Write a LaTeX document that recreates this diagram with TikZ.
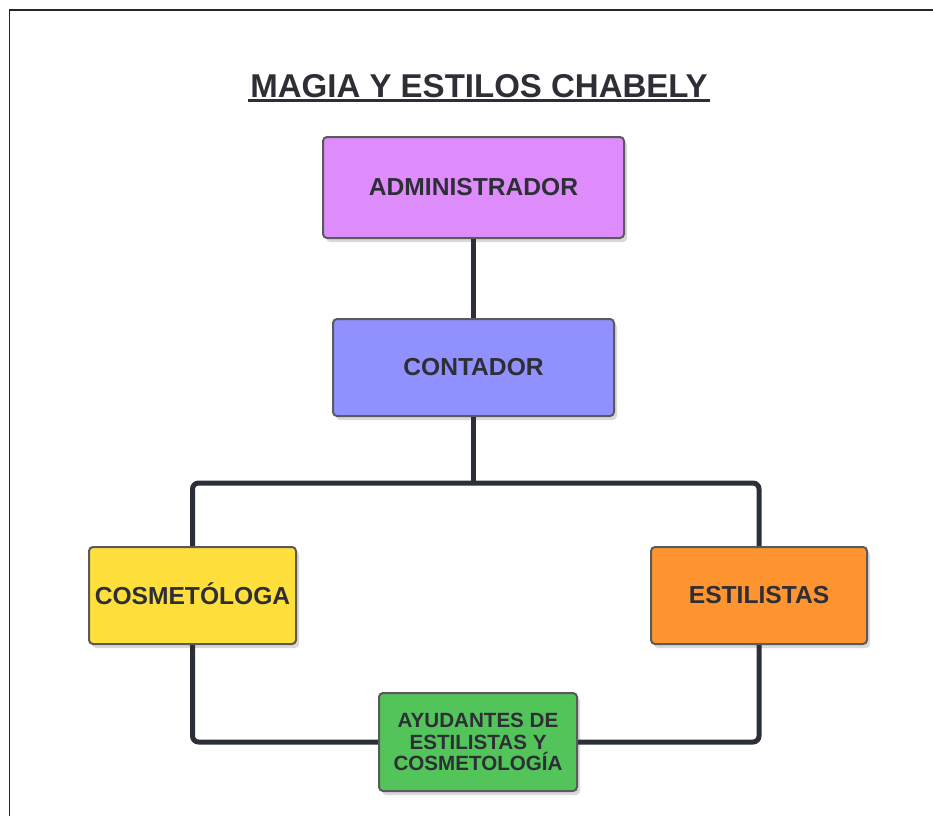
\documentclass[tikz,border=0pt]{standalone}
\usepackage{fontspec}
\setmainfont{Liberation Sans}
\usetikzlibrary{shadows}
\definecolor{inkdark}{HTML}{2B3038}
\definecolor{boxline}{HTML}{5A5A5A}
\definecolor{txtdark}{HTML}{2E2E36}
\definecolor{admincol}{HTML}{DE8CFC}
\definecolor{contcol}{HTML}{9090FF}
\definecolor{cosmcol}{HTML}{FFDF3C}
\definecolor{estcol}{HTML}{FD9430}
\definecolor{ayudcol}{HTML}{52C45A}
\tikzset{
  rolebox/.style={draw=boxline, line width=2pt, rounded corners=4pt, inner sep=0pt,
    align=center, text=txtdark, font=\bfseries\fontsize{24.6}{28}\selectfont,
    drop shadow={opacity=0.3, shadow xshift=3pt, shadow yshift=-4pt}},
  link/.style={draw=inkdark, line width=5pt, rounded corners=6pt},
}
\begin{document}
\begin{tikzpicture}[x=1pt, y=-1pt]
% Page size and frame
\useasboundingbox (0,0) rectangle (933,816);
\draw[line width=1.2pt, black!85] (9.5,816) -- (9.5,10) -- (933,10);

% Title
\node[anchor=base, inner sep=0pt, text=txtdark, font=\bfseries\fontsize{33}{36}\selectfont] (title) at (479,97) {MAGIA Y ESTILOS CHABELY};
\draw[inkdark, line width=3pt] ([xshift=-2pt, yshift=-3pt]title.base west) -- ([xshift=2pt, yshift=-3pt]title.base east);

% Boxes of the chart
\node[rolebox, fill=admincol, minimum width=301pt, minimum height=101pt] (admin) at (473.5,187.5) {ADMINISTRADOR};
\node[rolebox, fill=contcol, minimum width=281pt, minimum height=97pt] (cont) at (473.5,367.5) {CONTADOR};
\node[rolebox, fill=cosmcol, minimum width=207pt, minimum height=97pt, text height=17.6pt, text depth=0pt] (cosm) at (192.5,595.5) {COSMETÓLOGA};
\node[rolebox, fill=estcol, minimum width=216pt, minimum height=97pt] (est) at (759,595.5) {ESTILISTAS};
\node[rolebox, fill=ayudcol, minimum width=198pt, minimum height=98pt,
  font=\bfseries\fontsize{20.6}{21.5}\selectfont] (ayud) at (478,742) {AYUDANTES DE\\ESTILISTAS Y\\COSMETOLOGÍA};

% Connectors
\coordinate (split) at (473.5,483);
\draw[link] (admin.south) -- (cont.north);
\draw[link] (cont.south) -- (split);
\draw[link] (cosm.north) |- (split) -| (est.north);
\draw[link] (cosm.south) |- (ayud.west);
\draw[link] (est.south) |- (ayud.east);
\end{tikzpicture}
\end{document}
